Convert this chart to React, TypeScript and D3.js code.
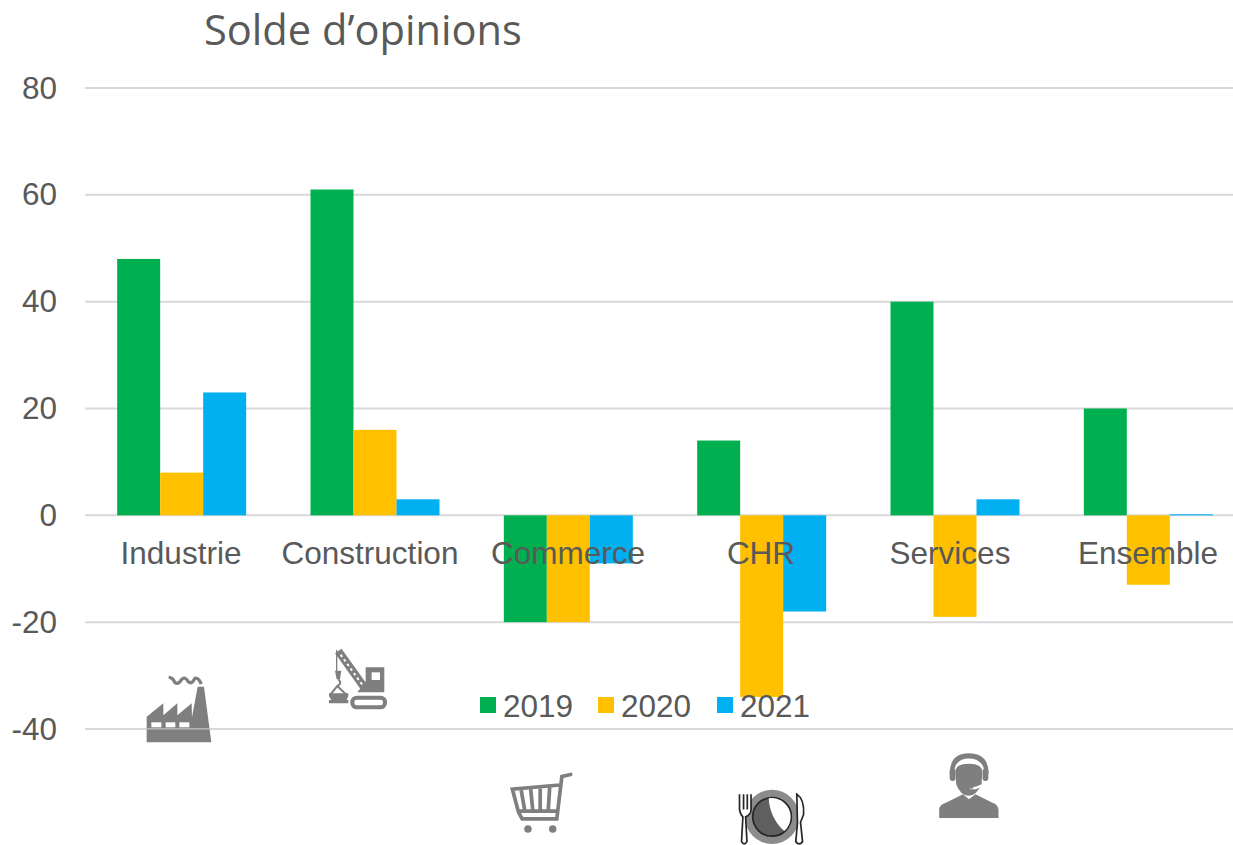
import React from "react";
import * as d3 from "d3";

const categories = ["Industrie", "Construction", "Commerce", "CHR", "Services", "Ensemble"];
const seriesNames = ["2019", "2020", "2021"];
const values2019 = [48, 61, -20, 14, 40, 20];
const values2020 = [8, 16, -20, -34, -19, -13];
const values2021 = [23, 3, -9, -18, 3, 0.2];
const seriesColors = ["#00B050", "#FFC000", "#00B0F0"];
const yTicks = [80, 60, 40, 20, 0, -20, -40];

const W = 1233, H = 845;
const y = d3.scaleLinear().domain([-40, 80]).range([729, 88]);
const x0 = d3.scaleBand<string>().domain(categories).range([85, 1245]);
const x1 = d3.scaleBand<string>().domain(seriesNames).range([0, 129]);
const pad = (x0.bandwidth() - 129) / 2;
const allSeries = [values2019, values2020, values2021];
const textCol = "#595959";
const iconCol = "#7f7f7f";

function Icons() {
  return (
    <g>
      {/* factory */}
      <g transform="translate(120,640) scale(0.3333)">
        <path fill={iconCol} d="M80,230 L130,190 L130,226 L172,190 L172,226 L215,190 L216,232 L233,140 L252,140 L274,307 L80,307 Z" />
        <rect x="94" y="247" width="30" height="15" fill="#fff" />
        <rect x="137" y="247" width="29" height="15" fill="#fff" />
        <rect x="178" y="247" width="30" height="15" fill="#fff" />
        <rect x="80" y="264" width="192" height="5" fill="#d9d9d9" opacity="0.6" />
        <path fill="none" stroke={iconCol} strokeWidth="10" d="M146,112 Q158,112 165,128 Q175,135 185,118 Q195,108 205,125 Q215,135 225,115 Q235,112 244,132" />
      </g>
      {/* crane */}
      <g transform="translate(120,640) scale(0.3333)">
        <path fill={iconCol} d="M737,82 H793 V157 H712 L737,125 Z" />
        <rect x="755" y="97" width="25" height="23" fill="#fff" />
        <rect x="697" y="173" width="98" height="29" rx="13" fill="#fff" stroke={iconCol} strokeWidth="12" />
        <path fill="none" stroke={iconCol} strokeWidth="24" d="M655,33 L735,145" />
        <path fill="none" stroke="#fff" strokeWidth="6" strokeDasharray="8 9" d="M662,44 L728,136" />
        <path fill="none" stroke={iconCol} strokeWidth="4" d="M650,30 V95" />
        <path fill={iconCol} d="M645,92 H664 L660,118 H650 Z" />
        <path fill="none" stroke={iconCol} strokeWidth="6" d="M655,118 Q668,130 652,138 L630,165 M652,138 L680,165" />
        <path fill={iconCol} d="M627,160 H685 V168 L680,180 H685 V190 H627 V180 H634 L627,168 Z" />
      </g>
      {/* cart */}
      <g transform="translate(490,745) scale(0.339)">
        <path fill="none" stroke={iconCol} strokeWidth="11" strokeLinecap="round" d="M238,87 L212,93 L197,218 H95 L84,198 L66,130 L206,118" />
        <path fill="none" stroke={iconCol} strokeWidth="11" d="M85,195 L200,195 M92,133 L102,190 M120,130 L126,190 M148,128 L148,190 M176,124 L172,190" />
        <circle cx="112" cy="248" r="11" fill={iconCol} />
        <circle cx="185" cy="248" r="11" fill={iconCol} />
      </g>
      {/* plate */}
      <g transform="translate(490,745) scale(0.339)">
        <circle cx="832" cy="212" r="80" fill="#8c8c8c" />
        <circle cx="832" cy="212" r="57" fill="#5f5f5f" stroke="#262626" strokeWidth="5" />
        <path fill="#fff" d="M822,157 A56,56 0 0 1 868,254 Q826,216 822,157 Z" />
        <path fill="#fff" stroke="#262626" strokeWidth="5" d="M736,145 V190 Q738,205 746,212 L742,285 Q750,298 758,285 L754,212 Q770,205 770,190 V145 M748,145 V190 M759,145 V190" />
        <path fill="#fff" stroke="#262626" strokeWidth="5" d="M905,145 Q928,160 925,205 L916,228 L922,285 Q912,298 902,285 L907,230 Z" />
      </g>
      {/* headset person */}
      <g transform="translate(490,745) scale(0.339)">
        <path fill={iconCol} d="M1325,215 V188 Q1328,175 1345,170 L1395,145 L1413,160 L1432,145 L1482,170 Q1498,175 1500,190 V215 Z" />
        <path fill={iconCol} d="M1373,80 Q1373,55 1412,55 Q1452,55 1452,80 L1450,115 Q1435,150 1412,150 Q1388,150 1375,115 Z" />
        <path fill="none" stroke={iconCol} strokeWidth="16" d="M1364,85 Q1364,32 1412,32 Q1463,32 1463,85" />
        <rect x="1356" y="70" width="17" height="36" rx="7" fill={iconCol} />
        <rect x="1453" y="70" width="17" height="36" rx="7" fill={iconCol} />
        <path fill="none" stroke="#fff" strokeWidth="4" d="M1372,72 Q1376,44 1412,44 Q1450,44 1455,72" />
        <path fill="none" stroke="#fff" strokeWidth="7" d="M1415,127 H1432 L1450,120" />
        <ellipse cx="1418" cy="124" rx="9" ry="5" fill={iconCol} />
      </g>
    </g>
  );
}

export default function App() {
  const legendX = [480, 598, 717];
  return (
    <svg width={W} height={H} style={{ position: "absolute", left: 0, top: 0, background: "#fff" }}>
      <text x={204} y={45} fontFamily="'Open Sans'" fontSize={41.6} fill={textCol}>Solde d’opinions</text>
      {yTicks.map((t) => (
        <g key={t}>
          <line x1={85} x2={W} y1={y(t)} y2={y(t)} stroke="#d9d9d9" strokeWidth={2} />
          <text x={57} y={y(t) + 10.5} textAnchor="end" fontFamily="'Liberation Sans'" fontSize={31.5} fill={textCol}>{t}</text>
        </g>
      ))}
      <Icons />
      {allSeries.map((vals, s) => (
        <g key={seriesNames[s]} fill={seriesColors[s]}>
          {vals.map((v, i) => (
            <rect
              key={categories[i]}
              x={x0(categories[i])! + pad + x1(seriesNames[s])!}
              width={x1.bandwidth()}
              y={Math.min(y(v), y(0))}
              height={Math.abs(y(v) - y(0))}
            />
          ))}
        </g>
      ))}
      {categories.map((c, i) => (
        <text key={c} x={[181, 370, 568, 761, 950, 1148][i]} y={564} textAnchor="middle" fontFamily="'Liberation Sans'" fontSize={31.5} fill={textCol}>{c}</text>
      ))}
      {seriesNames.map((n, i) => (
        <g key={n}>
          <rect x={legendX[i]} y={697} width={16} height={16} fill={seriesColors[i]} />
          <text x={legendX[i] + 23} y={716.5} fontFamily="'Liberation Sans'" fontSize={31.5} fill={textCol}>{n}</text>
        </g>
      ))}
    </svg>
  );
}
